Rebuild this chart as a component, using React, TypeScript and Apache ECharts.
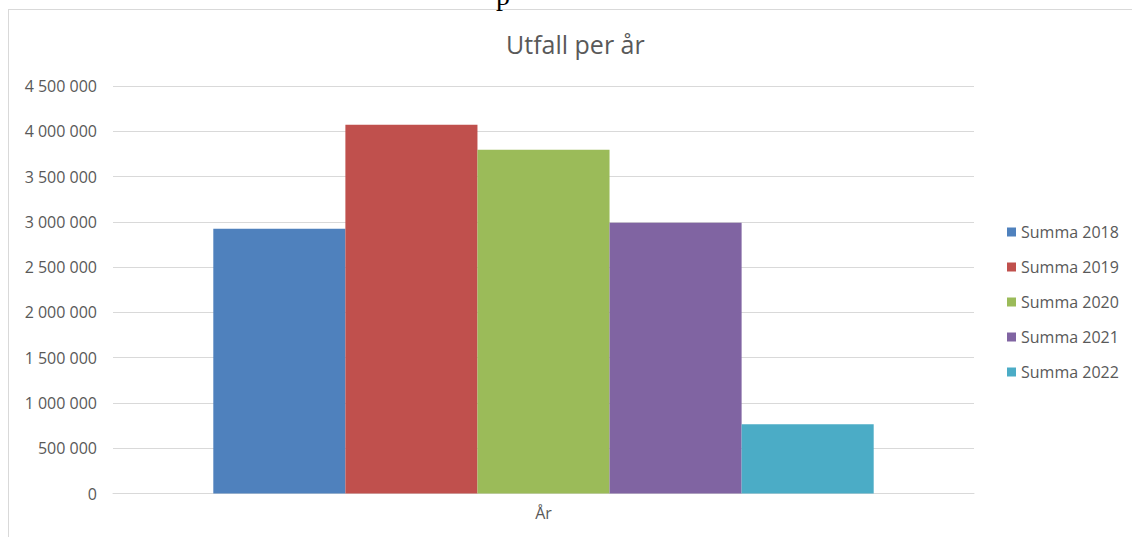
import React, { useEffect, useRef } from "react";
import * as echarts from "echarts";

const categories = ["År"];
const seriesNames = ["Summa 2018", "Summa 2019", "Summa 2020", "Summa 2021", "Summa 2022"];
const seriesValues = [2925000, 4073000, 3795000, 2990000, 765000];
const seriesColors = ["#4F81BD", "#C0504D", "#9BBB59", "#8064A2", "#4BACC6"];
const yMin = 0;
const yMax = 4500000;
const yStep = 500000;

const FONT = "'Open Sans', sans-serif";
const TXT = "#595959";

function fmt(v: number): string {
  return String(Math.round(v)).replace(/\B(?=(\d{3})+(?!\d))/g, " ");
}

export default function App() {
  const ref = useRef<HTMLDivElement>(null);
  useEffect(() => {
    document.body.style.margin = "0";
    const chart = echarts.init(ref.current!, undefined, { renderer: "svg" });
    chart.setOption({
      animation: false,
      backgroundColor: "#ffffff",
      title: {
        text: "Utfall per år",
        left: 501,
        top: 26,
        textStyle: { fontFamily: FONT, fontSize: 25, fontWeight: "normal", color: TXT },
      },
      legend: {
        orient: "vertical",
        left: 1002,
        top: 219,
        itemWidth: 9,
        itemHeight: 9,
        itemGap: 19,
        icon: "rect",
        data: seriesNames,
        textStyle: { fontFamily: FONT, fontSize: 16, color: TXT },
      },
      grid: { left: 113, right: 158, top: 86, bottom: 43.5, containLabel: false },
      xAxis: {
        type: "category",
        data: categories,
        axisLine: { show: true, lineStyle: { color: "#d9d9d9", width: 1 } },
        axisTick: { show: false },
        axisLabel: { fontFamily: FONT, fontSize: 16, color: TXT, margin: 11 },
      },
      yAxis: {
        type: "value",
        min: yMin,
        max: yMax,
        interval: yStep,
        axisLine: { show: false },
        axisTick: { show: false },
        splitLine: { lineStyle: { color: "#d9d9d9", width: 1 } },
        axisLabel: { fontFamily: FONT, fontSize: 16, color: TXT, margin: 16, formatter: (v: number) => fmt(v) },
      },
      series: seriesNames.map((name, i) => ({
        name,
        type: "bar",
        data: [seriesValues[i]],
        barGap: "0%",
        barCategoryGap: "23.3%",
        itemStyle: { color: seriesColors[i] },
      })),
      graphic: [
        { type: "line", shape: { x1: 8, y1: 9.5, x2: 1132, y2: 9.5 }, style: { stroke: "#d9d9d9", lineWidth: 1 } },
        { type: "line", shape: { x1: 8.5, y1: 9, x2: 8.5, y2: 537 }, style: { stroke: "#d9d9d9", lineWidth: 1 } },
        {
          type: "text",
          x: 503,
          y: -19,
          style: {
            text: "p",
            fontFamily: "'Liberation Serif', 'Times New Roman', serif",
            fontSize: 28,
            fill: "#000000",
            align: "center",
            verticalAlign: "top",
          },
        },
      ],
    });
    return () => chart.dispose();
  }, []);
  return <div ref={ref} style={{ width: 1132, height: 537 }} />;
}
